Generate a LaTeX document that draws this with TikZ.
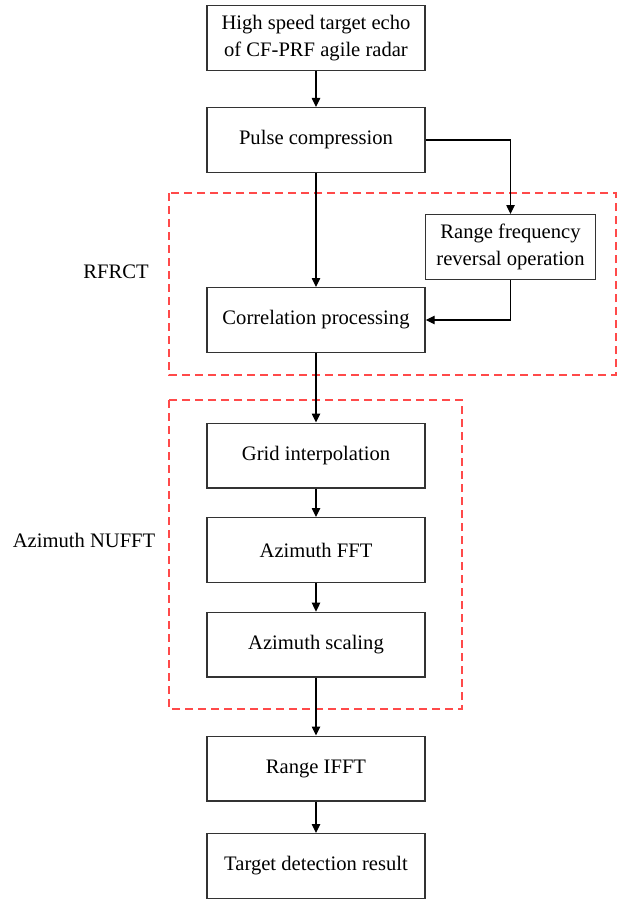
\documentclass[tikz,border=0pt]{standalone}
\usepackage{fontspec}
\setmainfont{Liberation Serif}
\usepackage{tikz}
\usetikzlibrary{arrows.meta,positioning,calc}
\definecolor{DashRed}{HTML}{FF4A4A}

\begin{document}
\begin{tikzpicture}[
    x=0.5pt,y=-0.5pt,
    box/.style={draw=black!80,line width=0.7pt,fill=white,minimum width=109pt,minimum height=32.3pt,
                align=center,font=\fontsize{10.3}{13.5}\selectfont,inner sep=0pt},
    flow/.style={-{Triangle[length=4.5pt,width=4.2pt]},line width=0.6pt},
    group/.style={draw=DashRed,line width=0.6pt,dash pattern=on 4pt off 2.5pt},
    tag/.style={font=\fontsize{10.3}{13.5}\selectfont}
  ]
  \useasboundingbox (0,0) rectangle (621,899);
  % dashed groups
  \draw[group] (169,193) rectangle (616,375);
  \draw[group] (169,400) rectangle (462,709);
  \node[tag] (rfrct) at (116,272) {RFRCT};
  \node[tag] (nufft) at (84,540) {Azimuth NUFFT};
  % processing chain
  \node[box] (E)  at (316,38)    {High speed target echo\\of CF-PRF agile radar};
  \node[box] (PC) at (316,140)   {Pulse compression};
  \node[box,minimum width=85pt] (RF) at (510.5,247) {Range frequency\\reversal operation};
  \node[box] (CP) at (316,320)   {Correlation processing};
  \node[box] (GI) at (316,455.5) {Grid interpolation};
  \node[box] (AF) at (316,550)   {Azimuth FFT};
  \node[box] (AS) at (316,644.7) {Azimuth scaling};
  \node[box] (RI) at (316,768.5) {Range IFFT};
  \node[box] (TD) at (316,866)   {Target detection result};
  \draw[flow] (E) -- (PC);
  \draw[flow] (PC) -- (CP);
  \draw[flow] (PC.east) -| (RF.north);
  \draw[flow] (RF.south) |- (CP.east);
  \draw[flow] (CP) -- (GI);
  \draw[flow] (GI) -- (AF);
  \draw[flow] (AF) -- (AS);
  \draw[flow] (AS) -- (RI);
  \draw[flow] (RI) -- (TD);
\end{tikzpicture}
\end{document}
